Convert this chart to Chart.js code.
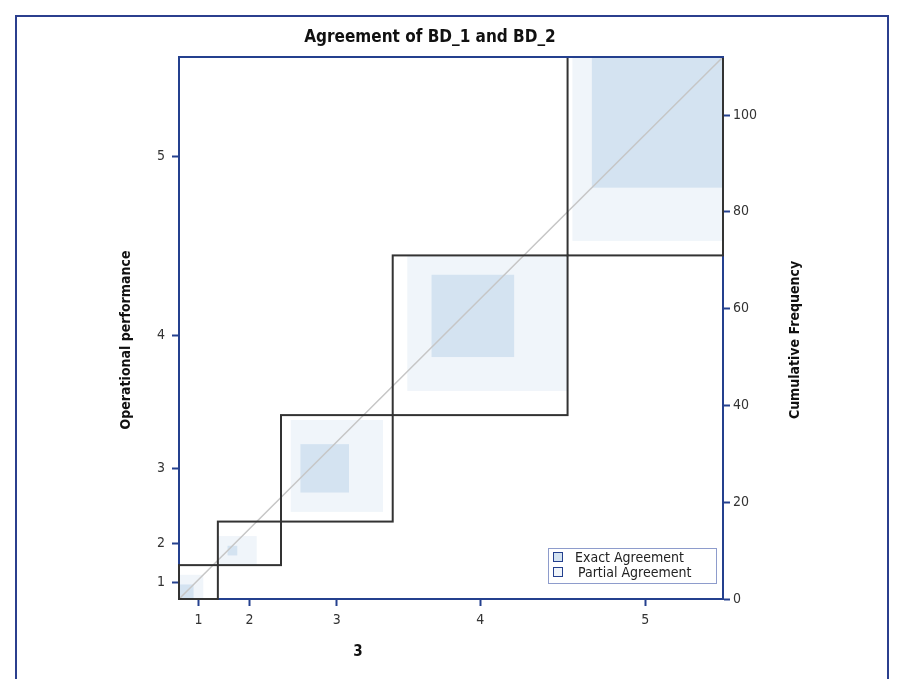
<!DOCTYPE html>
<html>
<head>
<meta charset="utf-8">
<title>Agreement of BD_1 and BD_2</title>
<script src="https://cdn.jsdelivr.net/npm/chart.js@4.4.1/dist/chart.umd.min.js"></script>
<style>
  html, body { margin: 0; padding: 0; background: #fff; }
  #wrap { position: relative; width: 905px; height: 679px; overflow: hidden; }
  #frame { position: absolute; left: 15px; top: 15px; width: 874px; height: 720px;
           border: 2px solid #2b3f8e; box-sizing: border-box; pointer-events: none; }
</style>
</head>
<body>
<div id="wrap">
  <canvas id="agree" width="905" height="679"></canvas>
  <div id="frame"></div>
</div>
<script>
// --- DATA ---
const categories = ['1', '2', '3', '4', '5'];
// cell counts: one row per "Operational performance" level, columns = levels of "3"
const row1 = [3, 2, 2, 0, 0];
const row2 = [2, 2, 2, 3, 0];
const row3 = [2, 4, 10, 5, 1];
const row4 = [1, 4, 7, 17, 4];
const row5 = [0, 1, 2, 11, 27];
const counts = [row1, row2, row3, row4, row5];
const freqTicks = [0, 20, 40, 60, 80, 100];

const titleText = 'Agreement of BD_1 and BD_2';
const xTitle = '3';
const yTitle = 'Operational performance';
const y2Title = 'Cumulative Frequency';
const legendLabels = ['Exact Agreement', 'Partial Agreement'];

// --- DERIVED TOTALS ---
const colTotals = categories.map((_, j) => counts.reduce((s, r) => s + r[j], 0));
const rowTotals = counts.map(r => r.reduce((a, b) => a + b, 0));
const total = rowTotals.reduce((a, b) => a + b, 0);
const cumulate = arr => arr.map((_, i) => arr.slice(0, i).reduce((a, b) => a + b, 0));
const colStart = cumulate(colTotals);
const rowStart = cumulate(rowTotals);
const colMids = colStart.map((s, j) => s + colTotals[j] / 2);
const rowMids = rowStart.map((s, i) => s + rowTotals[i] / 2);

// sum of column j over rows from..to (clamped)
const colSum = (j, from, to) => {
    let s = 0;
    for (let k = Math.max(0, from); k <= Math.min(categories.length - 1, to); k++) s += counts[k][j];
    return s;
};
// sum of row i over columns from..to (clamped)
const rowSum = (i, from, to) => {
    let s = 0;
    for (let k = Math.max(0, from); k <= Math.min(categories.length - 1, to); k++) s += counts[i][k];
    return s;
};

// --- STYLE ---
const FONT = "'Liberation Sans Narrow', 'DejaVu Sans Condensed', 'Roboto Condensed', 'Liberation Sans', Arial, sans-serif";
const AXIS_BLUE = '#24408e';
const EXACT_FILL = '#d4e3f1';
const PARTIAL_FILL = '#f0f5fa';
const BOX_LINE = '#333333';

function fillBox(ctx, x, y, x0, x1, y0, y1, color) {
    const l = x.getPixelForValue(x0), r = x.getPixelForValue(x1);
    const t = y.getPixelForValue(y1), b = y.getPixelForValue(y0);
    ctx.fillStyle = color;
    ctx.fillRect(l, t, r - l, b - t);
}

const agreementPlugin = {
    id: 'agreementBoxes',
    beforeDatasetsDraw(chart) {
        const { ctx, chartArea, scales: { x, y } } = chart;
        ctx.save();
        ctx.beginPath();
        ctx.rect(chartArea.left, chartArea.top, chartArea.width, chartArea.height);
        ctx.clip();
        categories.forEach((_, i) => {
            const x0 = colStart[i], y0 = rowStart[i];
            // partial agreement: cells within one step of the diagonal
            fillBox(ctx, x, y,
                x0 + colSum(i, 0, i - 2), x0 + colSum(i, 0, i + 1),
                y0 + rowSum(i, 0, i - 2), y0 + rowSum(i, 0, i + 1), PARTIAL_FILL);
            // exact agreement
            const ex = x0 + colSum(i, 0, i - 1);
            const ey = y0 + rowSum(i, 0, i - 1);
            fillBox(ctx, x, y, ex, ex + counts[i][i], ey, ey + counts[i][i], EXACT_FILL);
        });
        ctx.restore();
    },
    afterDatasetsDraw(chart) {
        const { ctx, scales: { x, y } } = chart;
        ctx.save();
        ctx.strokeStyle = BOX_LINE;
        ctx.lineWidth = 2;
        categories.forEach((_, i) => {
            const l = x.getPixelForValue(colStart[i]);
            const r = x.getPixelForValue(colStart[i] + colTotals[i]);
            const t = y.getPixelForValue(rowStart[i] + rowTotals[i]);
            const b = y.getPixelForValue(rowStart[i]);
            ctx.strokeRect(l, t, r - l, b - t);
        });
        ctx.restore();
    },
    afterDraw(chart) {
        const { ctx, chartArea } = chart;
        ctx.save();
        // top edge of the frame
        ctx.strokeStyle = AXIS_BLUE;
        ctx.lineWidth = 2;
        ctx.beginPath();
        ctx.moveTo(chartArea.left - 1, chartArea.top);
        ctx.lineTo(chartArea.right + 1, chartArea.top);
        ctx.stroke();

        // titles
        ctx.fillStyle = '#111';
        ctx.textAlign = 'center';
        ctx.textBaseline = 'middle';
        ctx.font = `bold 17px ${FONT}`;
        ctx.fillText(titleText, 430, 38);
        ctx.font = `bold 15px ${FONT}`;
        ctx.fillText(xTitle, 358, 652);
        ctx.font = `bold 14px ${FONT}`;
        [[126, yTitle], [795, y2Title]].forEach(([tx, text]) => {
            ctx.save();
            ctx.translate(tx, 340);
            ctx.rotate(-Math.PI / 2);
            ctx.fillText(text, 0, 0);
            ctx.restore();
        });

        // legend
        const bw = 168, bh = 35;
        const bx = chartArea.right - 7 - bw, by = chartArea.bottom - 16 - bh;
        ctx.fillStyle = '#fff';
        ctx.fillRect(bx, by, bw, bh);
        ctx.strokeStyle = '#8e9ccc';
        ctx.lineWidth = 1;
        ctx.strokeRect(bx + 0.5, by + 0.5, bw, bh);
        [EXACT_FILL, PARTIAL_FILL].forEach((fill, k) => {
            const sy = by + 4 + k * 15;
            ctx.fillStyle = fill;
            ctx.fillRect(bx + 5, sy, 10, 10);
            ctx.strokeStyle = AXIS_BLUE;
            ctx.strokeRect(bx + 5.5, sy + 0.5, 9, 9);
            ctx.fillStyle = '#222';
            ctx.textAlign = 'left';
            ctx.font = `14px ${FONT}`;
            ctx.fillText(legendLabels[k], bx + 27 + k * 3, sy + 6);
        });
        ctx.restore();
    }
};

const tickFont = { family: FONT, size: 14 };
const axisGrid = { drawOnChartArea: false, drawTicks: true, tickLength: 7, tickWidth: 2, color: AXIS_BLUE };
const axisBorder = { display: true, color: AXIS_BLUE, width: 2 };

new Chart(document.getElementById('agree').getContext('2d'), {
    type: 'scatter',
    data: {
        datasets: [{
            label: 'Diagonal',
            data: [{ x: 0, y: 0 }, { x: total, y: total }],
            showLine: true,
            borderColor: '#c6c6c6',
            borderWidth: 1.5,
            pointRadius: 0,
            xAxisID: 'x',
            yAxisID: 'y'
        }]
    },
    options: {
        responsive: false,
        animation: false,
        layout: { padding: { top: 57, left: 0, right: 0, bottom: 0 } },
        plugins: { legend: { display: false }, tooltip: { enabled: false } },
        scales: {
            x: {
                type: 'linear', position: 'bottom', min: 0, max: total, z: 1,
                afterBuildTicks: axis => { axis.ticks = colMids.map(v => ({ value: v })); },
                afterFit: axis => { axis.height = 80; },
                ticks: { autoSkip: false, maxRotation: 0, padding: 6, color: '#333', font: tickFont,
                         callback: (v, idx) => categories[idx] },
                grid: axisGrid,
                border: axisBorder
            },
            y: {
                type: 'linear', position: 'left', min: 0, max: total, z: 1,
                afterBuildTicks: axis => { axis.ticks = rowMids.map(v => ({ value: v })); },
                afterFit: axis => { axis.width = 179; },
                ticks: { autoSkip: false, padding: 7, color: '#333', font: tickFont,
                         callback: (v, idx) => categories[idx] },
                grid: axisGrid,
                border: axisBorder
            },
            y2: {
                type: 'linear', position: 'right', min: 0, max: total, z: 1,
                afterBuildTicks: axis => { axis.ticks = freqTicks.map(v => ({ value: v })); },
                afterFit: axis => { axis.width = 182; },
                ticks: { autoSkip: false, padding: 3, color: '#333', font: tickFont },
                grid: axisGrid,
                border: axisBorder
            }
        }
    },
    plugins: [agreementPlugin]
});
</script>
</body>
</html>
